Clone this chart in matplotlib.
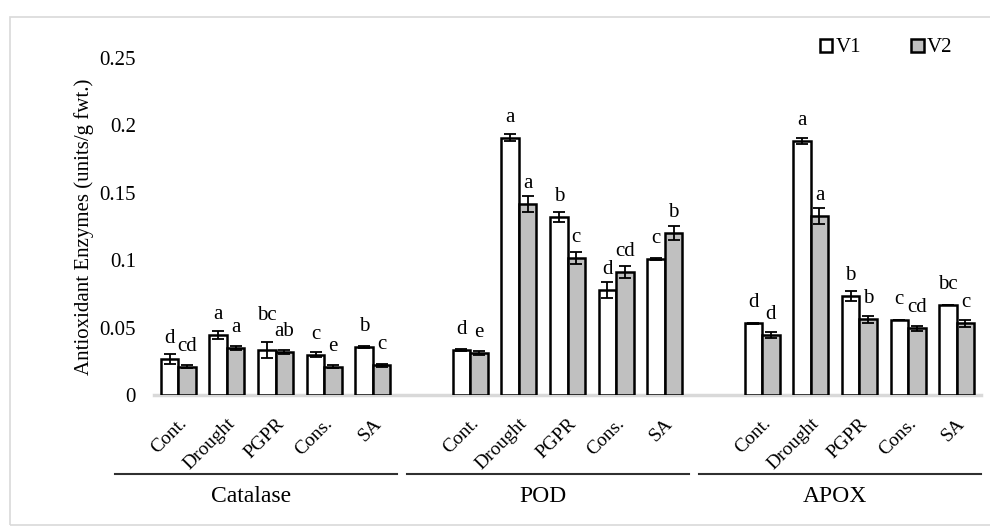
import numpy as np
import matplotlib
matplotlib.use("Agg")
import matplotlib.pyplot as plt
import matplotlib.transforms as mtransforms
from matplotlib.patches import Patch, Rectangle
from matplotlib.lines import Line2D

plt.rcParams['font.family'] = ['Liberation Serif', 'DejaVu Serif']

# Дані
groups = ['Catalase', 'POD', 'APOX']
treatments = ['Cont.', 'Drought', 'PGPR', 'Cons.', 'SA']

catalase_v1 = [0.0267, 0.0445, 0.0334, 0.0300, 0.0355]
catalase_v1_err = [0.0035, 0.003, 0.006, 0.002, 0.001]
catalase_v2 = [0.0210, 0.0350, 0.0320, 0.0210, 0.0220]
catalase_v2_err = [0.001, 0.0015, 0.0015, 0.001, 0.001]

pod_v1 = [0.0334, 0.1910, 0.1323, 0.0779, 0.1009]
pod_v1_err = [0.001, 0.0025, 0.0037, 0.006, 0.0005]
pod_v2 = [0.0310, 0.1417, 0.1014, 0.0915, 0.1200]
pod_v2_err = [0.0015, 0.006, 0.0045, 0.0045, 0.005]

apox_v1 = [0.0532, 0.1884, 0.0734, 0.0556, 0.0668]
apox_v1_err = [0.0005, 0.0025, 0.004, 0.0003, 0.0003]
apox_v2 = [0.0445, 0.1328, 0.0561, 0.0494, 0.0532]
apox_v2_err = [0.002, 0.006, 0.0025, 0.002, 0.0025]

catalase_v1_letters = ['d', 'a', 'bc', 'c', 'b']
catalase_v2_letters = ['cd', 'a', 'ab', 'e', 'c']
pod_v1_letters = ['d', 'a', 'b', 'd', 'c']
pod_v2_letters = ['e', 'a', 'c', 'cd', 'b']
apox_v1_letters = ['d', 'a', 'b', 'c', 'bc']
apox_v2_letters = ['d', 'a', 'b', 'cd', 'c']

v1_all = [catalase_v1, pod_v1, apox_v1]
v1_err_all = [catalase_v1_err, pod_v1_err, apox_v1_err]
v2_all = [catalase_v2, pod_v2, apox_v2]
v2_err_all = [catalase_v2_err, pod_v2_err, apox_v2_err]
v1_let_all = [catalase_v1_letters, pod_v1_letters, apox_v1_letters]
v2_let_all = [catalase_v2_letters, pod_v2_letters, apox_v2_letters]

# підписи, які в оригіналі підняті вручну: (група, обробка) -> додатковий зсув, pt
v1_extra = {(0, 2): 10}

# Побудова графіка
fig = plt.figure(figsize=(9.9, 5.27), dpi=100)
ax = fig.add_axes([154 / 990, 1 - 395 / 527, 827 / 990, 337 / 527])

fig.patches.append(Rectangle((10 / 990, 2 / 527), 1.0, 1 - 19 / 527,
                             transform=fig.transFigure, fill=False,
                             edgecolor='#d9d9d9', lw=1.2, clip_on=False))

w = 0.36
stride = len(treatments) + 1
err_kw = dict(ecolor='black', elinewidth=1.3, capsize=4, capthick=1.3)

for g in range(len(groups)):
    x = np.arange(len(treatments)) + g * stride
    ax.bar(x - w / 2, v1_all[g], w, yerr=v1_err_all[g], color='white',
           edgecolor='black', linewidth=1.8, error_kw=err_kw, zorder=3)
    ax.bar(x + w / 2, v2_all[g], w, yerr=v2_err_all[g], color='#c0c0c0',
           edgecolor='black', linewidth=1.8, error_kw=err_kw, zorder=3)
    for i in range(len(treatments)):
        ax.annotate(v1_let_all[g][i], (x[i] - w / 2, v1_all[g][i]),
                    xytext=(0, 11.5 + v1_extra.get((g, i), 0)),
                    textcoords='offset points',
                    ha='center', va='baseline', fontsize=15)
        ax.annotate(v2_let_all[g][i], (x[i] + w / 2, v2_all[g][i]),
                    xytext=(0, 11.5), textcoords='offset points',
                    ha='center', va='baseline', fontsize=15)

ax.set_xlim(-0.5, 3 * stride - 1.5)
ax.set_ylim(0, 0.25)
ax.set_yticks([0, 0.05, 0.1, 0.15, 0.2, 0.25])
ax.set_yticklabels(['0', '0.05', '0.1', '0.15', '0.2', '0.25'])
ax.set_xticks([])
ax.tick_params(axis='y', length=0, pad=13, labelsize=15)
for s in ['top', 'right', 'left']:
    ax.spines[s].set_visible(False)
ax.spines['bottom'].set_color('#d9d9d9')
ax.spines['bottom'].set_linewidth(2.5)
ax.spines['bottom'].set_zorder(2)

fig.text(84 / 990, 1 - 227 / 527, 'Antioxidant Enzymes (units/g fwt.)',
         rotation=90, ha='center', va='center', fontsize=15)

# Підписи категорій та груп
trans = mtransforms.blended_transform_factory(ax.transData, fig.transFigure)
for g, name in enumerate(groups):
    base = g * stride
    for i, t in enumerate(treatments):
        ax.text(base + i + 0.12, 1 - 421 / 527, t, transform=trans,
                rotation=45, rotation_mode='anchor', ha='right', va='center',
                fontsize=14, clip_on=False)
    ax.add_line(Line2D([base - 1.3, base + 4.5], [1 - 474 / 527] * 2,
                       transform=trans, color='#303030', lw=1.5, clip_on=False))
    ax.text(base + 1.5, 1 - 497 / 527, name, transform=trans, ha='center',
            va='center', fontsize=17, clip_on=False)

handles = [Patch(facecolor='white', edgecolor='black', lw=1.8),
           Patch(facecolor='#c0c0c0', edgecolor='black', lw=1.8)]
fig.legend(handles, ['V1', 'V2'], loc='center', ncol=2,
           bbox_to_anchor=(886 / 990, 1 - 48 / 527), frameon=False,
           fontsize=15, handlelength=0.6, handleheight=0.6,
           handletextpad=0.15, columnspacing=2.4)

fig.savefig('out.png', dpi=100)
